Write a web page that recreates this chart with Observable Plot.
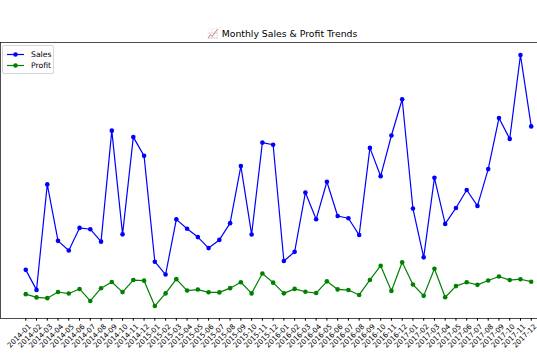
<!DOCTYPE html>
<html>
<head>
<meta charset="utf-8">
<script src="https://cdn.jsdelivr.net/npm/d3@7"></script>
<script src="https://cdn.jsdelivr.net/npm/@observablehq/plot@0.6"></script>
<style>
  html, body { margin: 0; padding: 0; background: #fff; overflow: hidden; width: 537px; height: 358px; }
  #wrap { position: relative; width: 537px; height: 358px; overflow: hidden; }
  #wrap svg.chart { max-width: none !important; position: absolute; left: 0; top: 0; }
  #title { position: absolute; left: 0; width: 564px; top: 28px; text-align: center;
           font-family: "DejaVu Sans", sans-serif; font-size: 9.3px; line-height: 11px; color: #000; white-space: nowrap; }
  #legend { position: absolute; left: 2px; top: 45px; width: 52px; height: 29px; box-sizing: border-box;
            border: 1px solid #d6d6d6; border-radius: 2px; background: rgba(255,255,255,0.8);
            font-family: "DejaVu Sans", sans-serif; font-size: 7.7px; color: #000; }
</style>
</head>
<body>
<div id="wrap">
  <div id="title">📈 Monthly Sales &amp; Profit Trends</div>
</div>
<script>
const months = [
  "2014-01","2014-02","2014-03","2014-04","2014-05","2014-06","2014-07","2014-08","2014-09","2014-10","2014-11","2014-12",
  "2015-01","2015-02","2015-03","2015-04","2015-05","2015-06","2015-07","2015-08","2015-09","2015-10","2015-11","2015-12",
  "2016-01","2016-02","2016-03","2016-04","2016-05","2016-06","2016-07","2016-08","2016-09","2016-10","2016-11","2016-12",
  "2017-01","2017-02","2017-03","2017-04","2017-05","2017-06","2017-07","2017-08","2017-09","2017-10","2017-11","2017-12"
];
const sales = [
  14236.9, 4519.9, 55691.0, 28295.3, 23648.3, 34595.1, 33946.4, 27909.5, 81777.4, 31453.4, 78628.7, 69545.6,
  18174.1, 11951.4, 38726.3, 34195.2, 30131.7, 24797.3, 28765.3, 36898.3, 64595.9, 31404.9, 75972.6, 74919.5,
  18542.5, 22978.8, 51715.9, 38750.0, 56987.7, 40344.5, 39261.9, 31115.4, 73410.0, 59687.7, 79411.9, 96999.0,
  43971.4, 20301.1, 58872.4, 36521.5, 44261.1, 52981.7, 45264.4, 63120.9, 87866.7, 77776.9, 118447.8, 83829.3
];
const profit = [
  2450.2, 862.3, 498.7, 3488.8, 2738.7, 4976.5, -841.5, 5318.1, 8328.1, 3448.3, 9292.1, 8983.6,
  -3281.0, 2813.9, 9732.1, 4187.5, 4667.9, 3335.6, 3288.7, 5355.8, 8209.2, 2817.4, 12474.8, 8017.0,
  2824.8, 5004.6, 3612.0, 2977.8, 8662.2, 4750.4, 4432.9, 2062.1, 9328.7, 16243.1, 4011.4, 17885.3,
  7140.4, 1613.9, 14751.9, 933.3, 6342.6, 8223.3, 6952.6, 9041.0, 10991.6, 9275.3, 9690.1, 8483.4
];
const seriesNames = ["Sales", "Profit"];
const seriesColors = ["#0000ff", "#008000"];

const rows = months.map((m, i) => ({ i, month: m, sales: sales[i], profit: profit[i] }));

const allVals = sales.concat(profit);
const lo = d3.min(allVals), hi = d3.max(allVals), pad = (hi - lo) * 0.05;
const n = months.length;
const xpad = (n - 1) * 0.05;
const tickIdx = d3.range(n);

const chart = Plot.plot({
  width: 556,
  height: 358,
  marginTop: 42,
  marginBottom: 40,
  marginLeft: 0,
  marginRight: 0,
  style: { fontFamily: "DejaVu Sans, sans-serif", fontSize: "7.2px", color: "#000", background: "transparent" },
  x: { domain: [-xpad, n - 1 + xpad], label: null },
  y: { domain: [lo - pad, hi + pad], axis: null },
  marks: [
    Plot.axisX({ ticks: tickIdx, tickSize: 2.7, tickFormat: () => "", label: null }),
    Plot.axisX({ ticks: tickIdx, tickSize: 0, tickPadding: 5.4, tickFormat: i => months[i], tickRotate: -45,
                 dx: 4, dy: 1.5, label: null }),
    Plot.frame({ stroke: "#000", strokeWidth: 0.7 }),
    Plot.line(rows, { x: "i", y: "sales", stroke: seriesColors[0], strokeWidth: 1.2 }),
    Plot.dot(rows, { x: "i", y: "sales", fill: seriesColors[0], r: 2.3 }),
    Plot.line(rows, { x: "i", y: "profit", stroke: seriesColors[1], strokeWidth: 1.2 }),
    Plot.dot(rows, { x: "i", y: "profit", fill: seriesColors[1], r: 2.3 })
  ]
});
chart.classList.add("chart");
const wrap = document.getElementById("wrap");
wrap.insertBefore(chart, wrap.firstChild);

// legend
const leg = document.createElement("div");
leg.id = "legend";
let html = '<svg width="52" height="29" style="position:absolute;left:-1px;top:-1px;overflow:visible">';
seriesNames.forEach((name, k) => {
  const cy = 9.5 + k * 11;
  html += `<line x1="5" x2="22" y1="${cy}" y2="${cy}" stroke="${seriesColors[k]}" stroke-width="1.2"/>`;
  html += `<circle cx="13.5" cy="${cy}" r="2.3" fill="${seriesColors[k]}"/>`;
  html += `<text x="29" y="${cy + 2.8}" font-family="DejaVu Sans, sans-serif" font-size="7.7" fill="#000">${name}</text>`;
});
html += '</svg>';
leg.innerHTML = html;
wrap.appendChild(leg);
</script>
</body>
</html>
